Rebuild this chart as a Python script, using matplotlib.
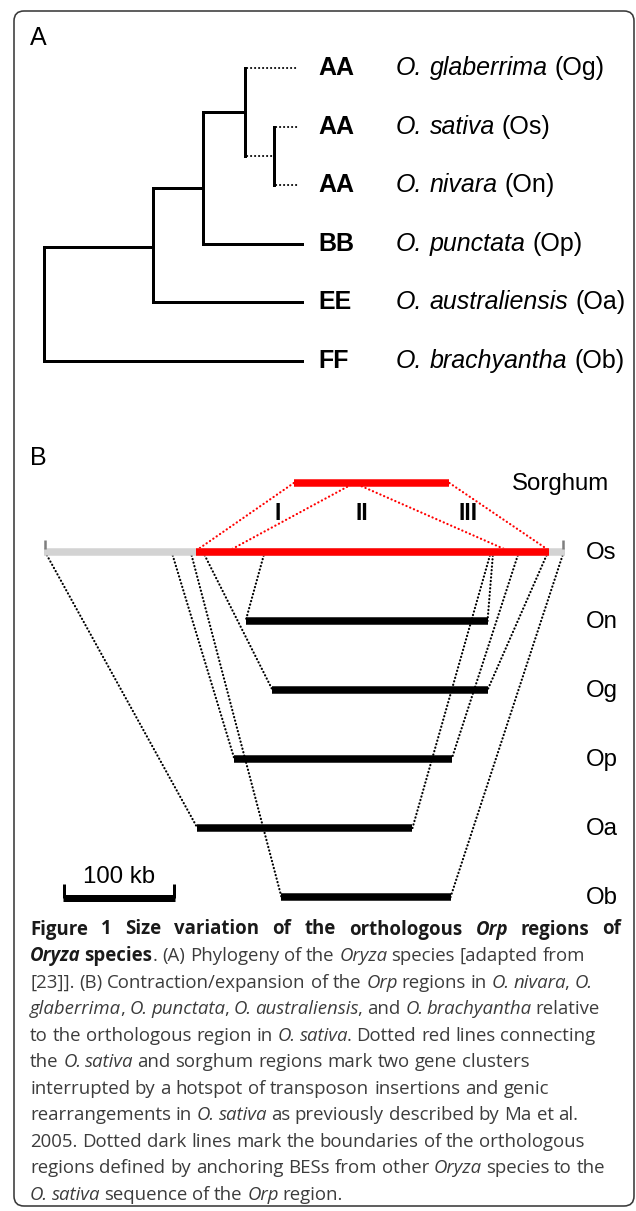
import matplotlib
matplotlib.use("Agg")
import re
import matplotlib.pyplot as plt
from matplotlib.patches import FancyBboxPatch
from matplotlib.font_manager import FontProperties
from matplotlib.transforms import offset_copy

# ---------------- data ----------------
# Panel A: phylogeny of the Oryza species (tips listed top to bottom)
tip_codes = ["Og", "Os", "On", "Op", "Oa", "Ob"]
tip_species = ["O. glaberrima", "O. sativa", "O. nivara", "O. punctata",
               "O. australiensis", "O. brachyantha"]
tip_genomes = ["AA", "AA", "AA", "BB", "EE", "FF"]
# internal nodes: relative depth (root = 0, tips = 1) and row position
node_names = ["root", "n1", "n2", "n3", "n4"]
node_depth = [0.0, 0.422, 0.616, 0.779, 0.891]
node_row = [None, 3.05, 2.05, 0.75, 1.5]
node_children = [["n1", "Ob"], ["n2", "Oa"], ["n3", "Op"], ["Og", "n4"], ["Os", "On"]]
dotted_branches = ["Og", "n4", "Os", "On"]

# Panel B: Orp regions (kb along the O. sativa sequence)
track_names = ["Sorghum", "Os", "On", "Og", "Op", "Oa", "Ob"]
os_sequence = [0, 465]
os_orp_region = [136, 451]
sorghum_region = [223, 362]
region_species = ["On", "Og", "Op", "Oa", "Ob"]
region_start = [180, 204, 170, 137, 212]
region_end = [396, 396, 364, 329, 363]
anchor_start = [197, 142, 114, 1, 131]
anchor_end = [401, 450, 424, 399, 464]
sorghum_link = [223, 277, 277, 362]
sativa_link = [134, 163, 417, 453]
cluster_labels = ["I", "II", "III"]
cluster_centre = [209, 284, 378.5]
scale_bar_kb = 100

caption_lines = [
    [("Figure 1 Size variation of the orthologous ", "b"), ("Orp", "bi"), (" regions of", "b")],
    [("Oryza", "bi"), (" species", "b"), (". (A) Phylogeny of the ", ""), ("Oryza", "i"),
     (" species [adapted from", "")],
    [("[23]]. (B) Contraction/expansion of the ", ""), ("Orp", "i"), (" regions in ", ""),
     ("O. nivara", "i"), (", ", ""), ("O.", "i")],
    [("glaberrima", "i"), (", ", ""), ("O. punctata", "i"), (", ", ""), ("O. australiensis", "i"),
     (", and ", ""), ("O. brachyantha", "i"), (" relative", "")],
    [("to the orthologous region in ", ""), ("O. sativa", "i"), (". Dotted red lines connecting", "")],
    [("the ", ""), ("O. sativa", "i"), (" and sorghum regions mark two gene clusters", "")],
    [("interrupted by a hotspot of transposon insertions and genic", "")],
    [("rearrangements in ", ""), ("O. sativa", "i"), (" as previously described by Ma et al.", "")],
    [("2005. Dotted dark lines mark the boundaries of the orthologous", "")],
    [("regions defined by anchoring BESs from other ", ""), ("Oryza", "i"), (" species to the", "")],
    [("O. sativa", "i"), (" sequence of the ", ""), ("Orp", "i"), (" region.", "")],
]
caption_justified = [True] + [False] * 10

# ---------------- figure ----------------
W, H, DPI = 636, 1211, 100
fig = plt.figure(figsize=(W / DPI, H / DPI), dpi=DPI)
fig.patch.set_facecolor("white")
renderer = fig.canvas.get_renderer()
SANS = ["Liberation Sans", "DejaVu Sans"]
CAP = ["Open Sans", "DejaVu Sans"]


def px2pt(p):
    return p * 72.0 / DPI


def fprops(family, size, style):
    return FontProperties(family=family, size=size,
                          weight="bold" if "b" in style else "normal",
                          style="italic" if "i" in style else "normal")


def bar_width(s, fp):
    w1, _, _ = renderer.get_text_width_height_descent("|" + s + "|", fp, ismath=False)
    w0, _, _ = renderer.get_text_width_height_descent("||", fp, ismath=False)
    return w1 - w0


def text_width(s, fp, italic_trim=0.0):
    w = bar_width(s, fp)
    if fp.get_style() == "italic" and not s.endswith(" "):
        w -= italic_trim * fp.get_size_in_points() * DPI / 72.0
    return w


def rich_text(ax, x, y, segments, family, size, color="black", transform=None,
              justify=None, italic_trim=0.0):
    base = ax.transData if transform is None else transform
    tokens = []
    for s, style in segments:
        for tok in re.findall(r" +|[^ ]+", s):
            tokens.append((tok, style))
    widths = [text_width(t, fprops(family, size, st), italic_trim) for t, st in tokens]
    extra = 0.0
    if justify is not None:
        nsp = sum(1 for t, _ in tokens if t.startswith(" "))
        if nsp:
            extra = (justify - sum(widths)) / nsp
    dx = 0.0
    for (t, st), w in zip(tokens, widths):
        if t.startswith(" "):
            dx += w + extra
            continue
        fp = fprops(family, size, st)
        tr = offset_copy(base, fig=fig, x=dx, y=0, units="dots")
        c = color(st) if callable(color) else color
        ax.text(x, y, t, fontproperties=fp, transform=tr, ha="left", va="baseline", color=c)
        dx += w
    return dx


# overlay axes in pixel coordinates (frame, panel letters, caption)
axF = fig.add_axes([0, 0, 1, 1])
axF.set_xlim(0, W)
axF.set_ylim(H, 0)
axF.axis("off")
axF.add_patch(FancyBboxPatch((14, 11), 620, 1195,
                             boxstyle="round,pad=0,rounding_size=10",
                             fill=False, edgecolor="#3a3a3a", lw=px2pt(1.6), zorder=0))
label_fs = px2pt(25)
axF.text(30, 45, "A", fontsize=label_fs, family=SANS, ha="left", va="baseline")
axF.text(30, 465, "B", fontsize=label_fs, family=SANS, ha="left", va="baseline")

# ---------------- panel A ----------------
axA = fig.add_axes([0, 0, 1, 1])
axA.axis("off")
A_X0, A_SPAN, A_Y0, A_STEP = 44, 258, 68, 58.6
axA.set_xlim(-A_X0 / A_SPAN, (W - A_X0) / A_SPAN)
axA.set_ylim((H - A_Y0) / A_STEP, -A_Y0 / A_STEP)

pos = {c: (1.0, i) for i, c in enumerate(tip_codes)}
for n, d, r in zip(node_names, node_depth, node_row):
    pos[n] = (d, r)
solid = dict(color="black", lw=px2pt(3), solid_capstyle="projecting", zorder=2)
dotted = dict(color="black", lw=px2pt(2.0), ls=(0, (0.1, 1.9)), dash_capstyle="round", zorder=2)
for n, kids in zip(node_names, node_children):
    d = pos[n][0]
    ys = [pos[k][1] for k in kids]
    axA.plot([d, d], [min(ys), max(ys)], **solid)
    for k in kids:
        kd, ky = pos[k]
        style = dotted if k in dotted_branches else solid
        end = kd - 0.012 if (k in dotted_branches and k in tip_codes) else kd
        start = d + 0.008 if k in dotted_branches else d
        axA.plot([start, end], [ky, ky], **style)

tree_fs = px2pt(25)
gen_x = (318 - A_X0) / A_SPAN
sp_x = (396 - A_X0) / A_SPAN
base_off = 7 / A_STEP
for i, (g, s, c) in enumerate(zip(tip_genomes, tip_species, tip_codes)):
    axA.text(gen_x, i + base_off, g, fontproperties=fprops(SANS, tree_fs, "b"),
             ha="left", va="baseline")
    rich_text(axA, sp_x, i + base_off, [(s, "i"), (" (" + c + ")", "")], SANS, tree_fs)

# ---------------- panel B ----------------
axB = fig.add_axes([0, 0, 1, 1])
axB.axis("off")
B_X0, B_PXKB, B_Y0, B_STEP = 44, 1.12, 483, 69
axB.set_xlim(-B_X0 / B_PXKB, (W - B_X0) / B_PXKB)
axB.set_ylim((H - B_Y0) / B_STEP, -B_Y0 / B_STEP)
row = {n: i for i, n in enumerate(track_names)}
bar_lw = px2pt(7.5)
bdot = dict(color="black", lw=px2pt(2.2), ls=(0, (0.1, 1.55)), dash_capstyle="round", zorder=1)
rdot = dict(color="#ff0000", lw=px2pt(2.2), ls=(0, (0.1, 1.75)), dash_capstyle="round", zorder=1)

for sp, a0, a1, s, e in zip(region_species, anchor_start, anchor_end, region_start, region_end):
    axB.plot([a0, s], [row["Os"], row[sp]], **bdot)
    axB.plot([a1, e], [row["Os"], row[sp]], **bdot)
for sk, ok in zip(sorghum_link, sativa_link):
    axB.plot([sk, ok], [row["Sorghum"], row["Os"]], **rdot)

bar = dict(lw=bar_lw, solid_capstyle="butt", zorder=3)
axB.plot(os_sequence, [row["Os"]] * 2, color="#d3d3d3", **bar)
axB.plot(os_orp_region, [row["Os"]] * 2, color="#ff0000", **bar)
axB.plot(sorghum_region, [row["Sorghum"]] * 2, color="#ff0000", **bar)
for sp, s, e in zip(region_species, region_start, region_end):
    axB.plot([s, e], [row[sp]] * 2, color="black", **bar)
# end ticks of the O. sativa sequence
for xk in (os_sequence[0] + 1, os_sequence[1] - 2):
    axB.plot([xk, xk], [row["Os"] - 12.5 / B_STEP, row["Os"] - 3.5 / B_STEP],
             color="#7f7f7f", lw=px2pt(2.5), solid_capstyle="butt", zorder=4)

# scale bar
sb0 = 17
sb1 = sb0 + scale_bar_kb
sby = row["Ob"] + 1 / B_STEP
axB.plot([sb0, sb1], [sby, sby], color="black", lw=px2pt(7), solid_capstyle="butt", zorder=3)
for xk in (sb0 + 1.2, sb1 - 1.2):
    axB.plot([xk, xk], [sby - 14 / B_STEP, sby], color="black", lw=px2pt(3),
             solid_capstyle="butt", zorder=3)
axB.text((sb0 + sb1) / 2, sby - 15 / B_STEP, f"{scale_bar_kb} kb", fontsize=px2pt(24),
         family=SANS, ha="center", va="baseline")

for lab, xc in zip(cluster_labels, cluster_centre):
    axB.text(xc, row["Sorghum"] + 0.435, lab, fontproperties=fprops(SANS, px2pt(23), "b"),
             ha="center", va="center")

lab_fs = px2pt(24)
for n in track_names:
    x = (512 - B_X0) / B_PXKB if n == "Sorghum" else (586 - B_X0) / B_PXKB
    axB.text(x, row[n] + 7 / B_STEP, n, fontsize=lab_fs, family=SANS, ha="left", va="baseline")

# ---------------- caption ----------------
ref_fp = fprops(CAP, 10, "")
ref_w = bar_width("2005. Dotted dark lines mark the boundaries of the orthologous", ref_fp)
cap_fs = 10 * 554.0 / ref_w


def cap_color(style):
    return "#1a1a1a" if "b" in style else "#3c3c3c"


for i, (segs, just) in enumerate(zip(caption_lines, caption_justified)):
    rich_text(axF, 30, 934.5 + 26.55 * i, segs, CAP, cap_fs, color=cap_color,
              justify=591.0 if just else None, italic_trim=0.07)

fig.savefig("out.png", dpi=DPI, facecolor="white")
